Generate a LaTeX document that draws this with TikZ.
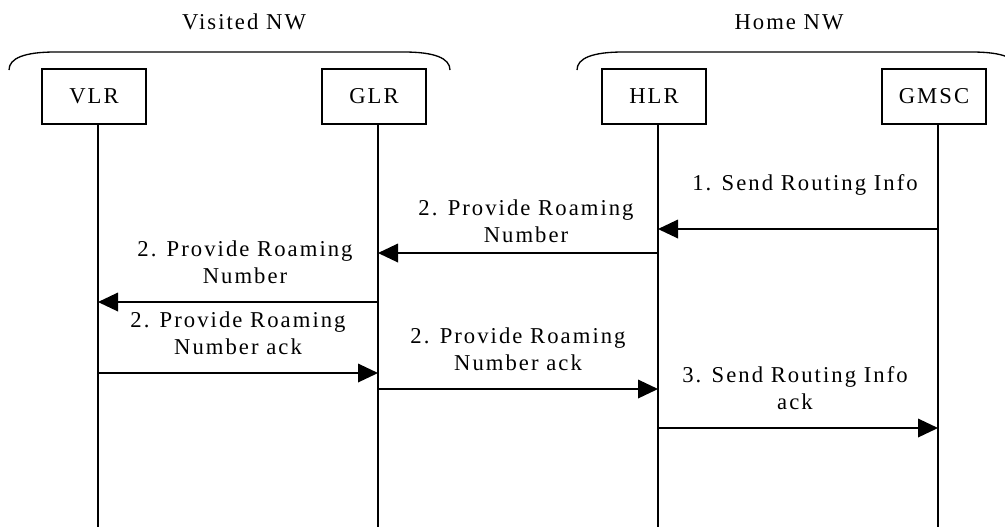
\documentclass[tikz,border=0pt]{standalone}
\usepackage{fontspec}
\setmainfont{Liberation Serif}[LetterSpace=9]
\usetikzlibrary{arrows.meta,calc}
\begin{document}
\begin{tikzpicture}[x=0.75pt,y=-0.75pt,
  every node/.style={font=\fontsize{17}{20.25}\selectfont, inner sep=0pt},
  ent/.style={draw, line width=1pt, minimum width=78pt, minimum height=41.25pt},
  life/.style={line width=1pt},
  msg/.style={line width=1pt, -{Triangle[length=15pt,width=14pt]}},
  lbl/.style={align=center},
  brace/.style={line width=1pt}]
\clip (0,0) rectangle (1005,526);
% titles
\node (vis) at (244,22) {Visited NW};
\node (home) at (789,22) {Home NW};
% braces
\draw[brace] (9,70) .. controls (9,58) and (25,52) .. (55,52) -- (404,52) .. controls (434,52) and (450,58) .. (450,70);
\draw[brace] (577,70) .. controls (577,58) and (593,52) .. (623,52) -- (972,52) .. controls (1002,52) and (1018,58) .. (1018,70);
% entities
\node[ent] (vlr) at (94,96.5) {VLR};
\node[ent] (glr) at (374,96.5) {GLR};
\node[ent] (hlr) at (654,96.5) {HLR};
\node[ent] (gmsc) at (934,96.5) {GMSC};
% lifeline bottoms
\coordinate (vlrb) at (98,530);
\coordinate (glrb) at (378,530);
\coordinate (hlrb) at (658,530);
\coordinate (gmscb) at (938,530);
\draw[life] (vlrb |- vlr.south) -- (vlrb);
\draw[life] (glrb |- glr.south) -- (glrb);
\draw[life] (hlrb |- hlr.south) -- (hlrb);
\draw[life] (gmscb |- gmsc.south) -- (gmscb);
% message levels
\coordinate (y1) at (0,229);
\coordinate (y2) at (0,253);
\coordinate (y3) at (0,302);
\coordinate (y4) at (0,373);
\coordinate (y5) at (0,389);
\coordinate (y6) at (0,428);
\draw[msg] (gmscb |- y1) -- (hlrb |- y1);
\draw[msg] (hlrb |- y2) -- (glrb |- y2);
\draw[msg] (glrb |- y3) -- (vlrb |- y3);
\draw[msg] (vlrb |- y4) -- (glrb |- y4);
\draw[msg] (glrb |- y5) -- (hlrb |- y5);
\draw[msg] (hlrb |- y6) -- (gmscb |- y6);
% labels
\node[lbl] (l1) at (805,184.5) {1. Send Routing Info};
\node[lbl] (l2) at (526,221.5) {2. Provide Roaming\\Number};
\node[lbl] (l3) at (245,262) {2. Provide Roaming\\Number};
\node[lbl] (l4) at (238,333) {2. Provide Roaming\\Number ack};
\node[lbl] (l5) at (518,349.5) {2. Provide Roaming\\Number ack};
\node[lbl] (l6) at (795,388.5) {3. Send Routing Info\\ack};
\end{tikzpicture}
\end{document}
